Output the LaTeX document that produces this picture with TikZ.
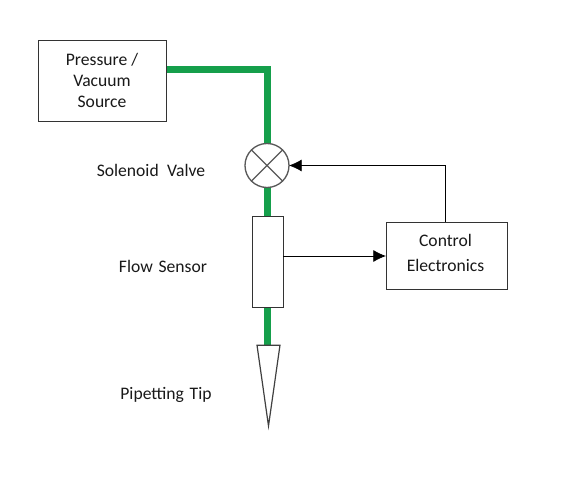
\documentclass[tikz,border=0pt]{standalone}
\usepackage{fontspec}
\setmainfont{Carlito}
\usetikzlibrary{arrows.meta}
\tikzset{
  x=0.75pt,y=-0.75pt,
  boxnode/.style={draw=black!80,line width=0.65pt,fill=white,rectangle,inner sep=0pt,outer sep=0pt},
  pipe/.style={color={rgb:red,22;green,167;blue,79},line width=4.6pt},
  wire/.style={draw=black,line width=0.6pt},
  sig/.style={wire,-{Latex[length=9.5pt,width=9pt]}},
  txt/.style={font=\fontsize{13.2pt}{15.75pt}\selectfont,align=center,text=black!90,inner sep=0pt},
}
\begin{document}
\begin{tikzpicture}
\useasboundingbox (0,0) rectangle (568,484);
\fill[white] (0,0) rectangle (568,484);
% nodes geometry
\node[boxnode,minimum width=96pt,minimum height=60.75pt] (source) at (102,80.5) {};
\node[draw=none,minimum size=0pt,inner sep=0pt] (corner) at (267.5,69.5) {};
\node[circle,draw=none,minimum size=33pt,inner sep=0pt,outer sep=0pt] (valve) at (267,165.5) {};
\node[rectangle,draw=none,minimum width=23.25pt,minimum height=68.25pt,inner sep=0pt,outer sep=0pt] (sensor) at (267.5,261.5) {};
\node[rectangle,draw=none,minimum width=17.25pt,minimum height=60.5pt,inner sep=0pt,outer sep=0pt] (tip) at (268.5,385.5) {};
\coordinate (srcout) at (source.east |- corner);
% pipes
\draw[pipe,line join=miter] (srcout) -- (corner.center) -- (corner.center |- valve.north);
\draw[pipe] (corner.center |- valve.south) -- (corner.center |- sensor.north);
\draw[pipe] (corner.center |- sensor.south) -- (corner.center |- tip.north);
% boxes on top of pipes
\node[boxnode,minimum width=96pt,minimum height=60.75pt] at (source) {};
\node[txt] at (source) {Pressure /\\Vacuum\\Source};
\node[circle,draw=black!65,line width=1pt,fill=white,minimum size=33pt,inner sep=0pt,outer sep=0pt] at (valve) {};
\draw[draw=black!65,line width=1pt] (valve.45) -- (valve.225) (valve.135) -- (valve.315);
\node[boxnode,minimum width=23.25pt,minimum height=68.25pt] at (sensor) {};
\node[boxnode,minimum width=90.75pt,minimum height=50.5pt] (ctrl) at (446.5,256) {};
\node[txt] at (445.5,252.5) {Control\\[3pt]Electronics};
\draw[draw=black!75,line width=0.9pt,line join=miter] (tip.north west) -- (tip.north east) -- (tip.south) -- cycle;
% signals
\coordinate (valvein) at (valve.east);
\coordinate (ctrlout) at (445.5,222);
\draw[sig] (ctrlout) -- (ctrlout |- valvein) -- (valvein);
\draw[sig] (sensor.east |- ctrl.west) -- (ctrl.west);
% labels
\node[txt] (lv) at (151,170) {Solenoid\hspace{0.25em} Valve};
\node[txt] (lf) at (163,266) {Flow\hspace{0.1em} Sensor};
\node[txt] (lt) at (166,395) {Pipetting\hspace{0.1em} Tip};
\end{tikzpicture}
\end{document}
